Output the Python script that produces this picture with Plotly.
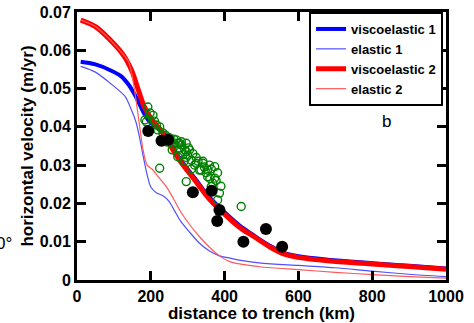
import plotly.graph_objects as go

# Model curves: distance to trench (km) vs horizontal velocity (m/yr)
visco1_x = [10, 50, 90, 120, 140, 160, 180, 195, 215, 235, 260, 280, 320, 360, 400, 440, 480, 520, 560, 600, 680, 800, 900, 1000]
visco1_y = [0.057, 0.0563, 0.0548, 0.0532, 0.0510, 0.0478, 0.0438, 0.0415, 0.0400, 0.0384, 0.0345, 0.0315, 0.0265,
            0.0215, 0.0177, 0.0143, 0.0116, 0.0091, 0.0071, 0.0062, 0.0053, 0.0044, 0.0037, 0.0030]

elastic1_x = [10, 50, 90, 130, 145, 160, 170, 180, 190, 200, 215, 235, 250, 265, 280, 305, 332, 360, 386, 415, 440,
              500, 600, 700, 800, 900, 1000]
elastic1_y = [0.0558, 0.0543, 0.0514, 0.048, 0.045, 0.0412, 0.037, 0.032, 0.0275, 0.0243, 0.0228, 0.0219, 0.0205,
              0.018, 0.0155, 0.0125, 0.0096, 0.0075, 0.0063, 0.0057, 0.0052, 0.0044, 0.0038, 0.0032, 0.0023,
              0.0015, 0.0009]

visco2_x = [10, 50, 90, 120, 135, 150, 165, 180, 195, 215, 235, 260, 280, 320, 360, 400, 440, 480, 520, 560, 600,
            680, 800, 900, 1000]
visco2_y = [0.0679, 0.0662, 0.0627, 0.0595, 0.0573, 0.0543, 0.0500, 0.0458, 0.0430, 0.0404, 0.0380, 0.034, 0.031,
            0.026, 0.021, 0.0172, 0.0138, 0.0113, 0.0088, 0.0068, 0.0059, 0.0050, 0.0042, 0.0035, 0.0028]

elastic2_x = [10, 50, 90, 120, 140, 150, 160, 170, 180, 190, 205, 220, 242, 260, 278, 305, 332, 360, 386, 414, 440,
              500, 600, 700, 800, 900, 1000]
elastic2_y = [0.0679, 0.0662, 0.0627, 0.0595, 0.057, 0.053, 0.047, 0.040, 0.0335, 0.030, 0.0288, 0.027, 0.0244,
              0.0215, 0.0183, 0.0145, 0.0113, 0.0085, 0.0063, 0.0048, 0.0042, 0.0034, 0.0027, 0.0020, 0.0014,
              0.0009, 0.0005]

# GPS observations (open green circles)
gps_x = [192, 206, 198, 184, 188, 224, 219, 233, 210, 215, 240, 250, 255, 262, 269, 273, 283, 296, 278, 292,
         287, 300, 273, 283, 305, 314, 296, 323, 341, 359, 364, 332, 350, 381, 377, 368, 386, 381, 354, 319,
         310, 373, 364, 373, 341, 296, 278, 323, 336, 354, 345, 328, 302, 265, 245, 258, 290, 310, 360, 390,
         224, 296, 445]
gps_y = [0.0452, 0.043, 0.0436, 0.0418, 0.0413, 0.040, 0.0392, 0.0384, 0.0415, 0.0405, 0.0378, 0.0372, 0.0365,
         0.0368, 0.0366, 0.0357, 0.0361, 0.0357, 0.0345, 0.034, 0.0327, 0.0326, 0.0322, 0.0353, 0.034, 0.033,
         0.032, 0.032, 0.0305, 0.030, 0.029, 0.0287, 0.028, 0.028, 0.026, 0.0253, 0.0227, 0.0209, 0.027, 0.030,
         0.0313, 0.0296, 0.0244, 0.0266, 0.031, 0.0335, 0.0357, 0.0305, 0.0287, 0.0287, 0.0295, 0.031, 0.0345,
         0.035, 0.036, 0.034, 0.031, 0.029, 0.0265, 0.0245, 0.0292, 0.0257, 0.0192]

# Campaign observations (filled black dots)
obs_x = [193, 229, 247, 314, 365, 386, 380, 451, 512, 556]
obs_y = [0.0389, 0.0364, 0.0366, 0.0229, 0.0233, 0.0183, 0.0154, 0.0100, 0.0133, 0.0087]

x_ticks = [0, 200, 400, 600, 800, 1000]
y_ticks = [0, 0.01, 0.02, 0.03, 0.04, 0.05, 0.06, 0.07]

FONT = "Arial, Liberation Sans, sans-serif"

fig = go.Figure()
fig.add_trace(go.Scatter(x=visco1_x, y=visco1_y, mode="lines", name="viscoelastic 1",
                         line=dict(color="rgb(0,0,255)", width=4, shape="spline", smoothing=1.0)))
fig.add_trace(go.Scatter(x=elastic1_x, y=elastic1_y, mode="lines", name="elastic 1",
                         line=dict(color="rgb(80,80,255)", width=1.2, shape="spline", smoothing=0.7)))
fig.add_trace(go.Scatter(x=visco2_x, y=visco2_y, mode="lines", name="viscoelastic 2",
                         line=dict(color="rgb(255,0,0)", width=5, shape="spline", smoothing=1.0)))
fig.add_trace(go.Scatter(x=elastic2_x, y=elastic2_y, mode="lines", name="elastic 2",
                         line=dict(color="rgb(255,90,90)", width=1.2, shape="spline", smoothing=0.7)))
fig.add_trace(go.Scatter(x=gps_x, y=gps_y, mode="markers", showlegend=False,
                         marker=dict(symbol="circle-open", size=8, color="rgb(0,128,0)",
                                     line=dict(width=1.4, color="rgb(0,128,0)"))))
fig.add_trace(go.Scatter(x=obs_x, y=obs_y, mode="markers", showlegend=False,
                         marker=dict(symbol="circle", size=12, color="black")))

axis_common = dict(showline=True, linecolor="black", linewidth=3, mirror="ticks",
                   ticks="inside", ticklen=9, tickwidth=2.5, tickcolor="black",
                   showgrid=False, zeroline=False, automargin=False,
                   tickfont=dict(family=FONT, size=16, color="black", weight="bold"))

fig.update_xaxes(range=[0, 1000], tickvals=x_ticks, ticktext=[str(v) for v in x_ticks],
                 title=dict(text="distance to trench (km)", standoff=2,
                            font=dict(family=FONT, size=17, color="black", weight="bold")),
                 **axis_common)
fig.update_yaxes(range=[0, 0.07], tickvals=y_ticks,
                 ticktext=["0", "0.01", "0.02", "0.03", "0.04", "0.05", "0.06", "0.07"],
                 title=dict(text="horizontal velocity (m/yr)", standoff=2,
                            font=dict(family=FONT, size=17, color="black", weight="bold")),
                 **axis_common)

fig.add_annotation(text="b", xref="paper", yref="paper", x=0.856, y=0.59, showarrow=False,
                   font=dict(family=FONT, size=17, color="black"))
fig.add_annotation(text="0°", xref="paper", yref="paper", x=-0.172, y=0.138, xanchor="right",
                   yanchor="middle", showarrow=False, font=dict(family=FONT, size=17, color="black"))

fig.update_layout(
    width=474, height=323,
    margin=dict(l=77, r=28, t=12, b=43, autoexpand=False),
    paper_bgcolor="white", plot_bgcolor="white",
    legend=dict(x=0.992, y=1.0, xanchor="right", yanchor="top",
                bgcolor="white", bordercolor="black", borderwidth=2,
                font=dict(family=FONT, size=13, color="black", weight="bold"),
                tracegroupgap=0, itemwidth=30),
)

fig.write_html("out.html")
